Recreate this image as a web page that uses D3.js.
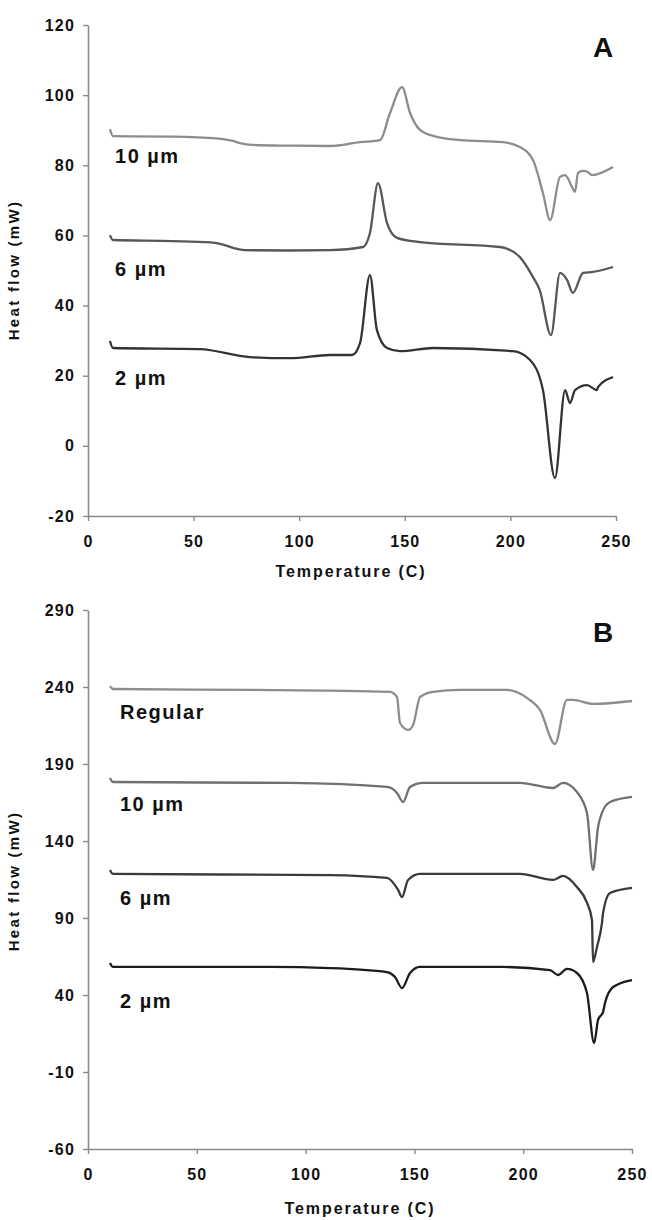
<!DOCTYPE html>
<html>
<head>
<meta charset="utf-8">
<script src="https://cdn.jsdelivr.net/npm/d3@7"></script>
<style>
  body { margin: 0; background: #fff; }
  text { font-family: "Liberation Sans", Arial, sans-serif; font-weight: bold; fill: #111; }
</style>
</head>
<body>
<svg width="652" height="1220"></svg>
<script>
// ---- data ----
const xTicks = [0, 50, 100, 150, 200, 250];
const yTicksA = [-20, 0, 20, 40, 60, 80, 100, 120];
const yTicksB = [-60, -10, 40, 90, 140, 190, 240, 290];

const namesA = ["10 µm", "6 µm", "2 µm"];
const namesB = ["Regular", "10 µm", "6 µm", "2 µm"];

// panel A, [temperature, heat flow]
const a10 = [[10.4,90.3],[11.8,88.3],[40,88.2],[62,87.6],[68,87.0],[73,86.2],[78.1,85.8],[95,85.6],[114.6,85.5],[128.8,86.6],[138.3,87.2],[143,94.9],[148.7,102.3],[152.5,94.9],[157.2,90.1],[165.2,88.1],[176.1,87.2],[196.5,86.6],[204.5,85.2],[210.7,81.5],[215.4,72.1],[218.8,64.4],[223.5,76.7],[225.9,77.2],[229.2,73.8],[230.6,72.4],[232,77.8],[234.4,78.4],[236.7,78.1],[238.6,77.2],[248.6,79.5]];
const a6 = [[10.4,60.1],[11.8,58.7],[40,58.4],[58,58.0],[64,57.4],[69,56.4],[74,55.8],[95,55.7],[114.6,55.8],[130.2,56.7],[133.5,60.7],[137.3,74.9],[141.6,63.5],[146.3,59.3],[157.2,58.1],[195.1,56.7],[204.5,53.8],[210.7,48.1],[213.9,44.4],[219.2,31.6],[223.5,49.3],[226.8,47.3],[229.6,43.6],[234.4,49.3],[239.1,49.6],[248.6,51.0]];
const a2 = [[10.4,29.9],[11.8,27.9],[53,27.6],[76.7,25.3],[95.6,25.0],[114.6,25.9],[125,25.9],[128.8,29.3],[133.5,48.7],[136.8,33.0],[141.6,27.9],[147.7,27.0],[163.4,27.9],[201.2,27.0],[209.3,24.5],[215.4,15.9],[221.1,-9.2],[225.9,15.9],[228.2,12.2],[230.6,15.9],[236.3,17.3],[241,15.9],[241.5,16.8],[248.6,19.6]];

// panel B
const bReg = [[10.1,240.6],[11.5,238.7],[74.4,238.1],[138.8,236.8],[142,233.5],[143.4,216.6],[147.1,212.1],[149.4,215.3],[152.6,233.5],[158.5,236.8],[171,238.1],[192.6,238.1],[201.7,232.9],[207.7,225.1],[214.6,203.0],[220.1,231.6],[222.9,231.6],[232.1,229.0],[250,230.9]];
const b10 = [[10.1,180.9],[11.5,178.3],[92.8,177.7],[137.4,175.1],[142,171.2],[144.8,165.3],[148,175.1],[154,177.7],[198.5,177.7],[213.7,174.4],[218.3,177.7],[224.7,171.8],[229.3,158.2],[232.1,121.2],[234.4,149.1],[236.2,158.2],[239.9,165.3],[250,168.6]];
const b6 = [[10.1,121.2],[11.5,118.6],[111.2,117.9],[137.4,116],[142.5,108.2],[144.3,103.6],[147.1,114.7],[152.6,118.6],[198.5,118.6],[213.7,114.7],[218.3,117.3],[224.7,110.1],[229.3,100],[231.6,88.7],[232.1,61.4],[233.9,71.2],[236.2,86.8],[236.7,93.2],[239.9,106.2],[250,109.5]];
const b2 = [[10.1,60.8],[11.5,58.2],[83.6,58.2],[111.2,57.5],[137.4,54.9],[141.1,51.7],[144.3,44.5],[148,54.3],[152.6,58.2],[190.7,58.2],[212.3,56.2],[216,53],[220.1,56.9],[224.7,54.3],[229.3,41.3],[232.6,8.8],[234.4,23.8],[236.7,29],[237.6,34.8],[241.3,45.2],[250,49.7]];

// ---- layout ----
const svg = d3.select("svg");

const panels = [
  {
    letter: "A", yDomain: [-20, 120], yTicks: yTicksA,
    left: 88, right: 616, top: 25, bottom: 516,
    series: [a10, a6, a2], names: namesA,
    colors: ["#8d8d8d", "#575757", "#333"],
    labelX: 12.8, labelY: [80.6, 48.4, 17.3],
    titleX: 351, titleY: 577, yTitleY: 270
  },
  {
    letter: "B", yDomain: [-60, 290], yTicks: yTicksB,
    left: 88, right: 632, top: 610, bottom: 1149,
    series: [bReg, b10, b6, b2], names: namesB,
    colors: ["#8d8d8d", "#707070", "#3a3a3a", "#1c1c1c"],
    labelX: 14.7, labelY: [219.2, 159.5, 98.4, 31.6],
    titleX: 360, titleY: 1214, yTitleY: 881
  }
];

panels.forEach((p) => {
  const x = d3.scaleLinear().domain([0, 250]).range([p.left, p.right]);
  const y = d3.scaleLinear().domain(p.yDomain).range([p.bottom, p.top]);

  const gx = svg.append("g")
    .attr("transform", `translate(0,${p.bottom})`)
    .call(d3.axisBottom(x).tickValues(xTicks).tickFormat((d) => String(d))
      .tickSize(5).tickSizeOuter(0).tickPadding(15));
  const gy = svg.append("g")
    .attr("transform", `translate(${p.left},0)`)
    .call(d3.axisLeft(y).tickValues(p.yTicks).tickFormat((d) => String(d))
      .tickSize(5).tickSizeOuter(0).tickPadding(8));

  [gx, gy].forEach((g) => {
    g.select(".domain").attr("stroke", "#8a8a8a").attr("stroke-width", 1.6);
    g.selectAll(".tick line").attr("stroke", "#8a8a8a").attr("stroke-width", 1.4);
    g.selectAll(".tick text")
      .attr("font-family", "Liberation Sans, Arial, sans-serif")
      .attr("font-weight", "bold")
      .attr("font-size", 16)
      .attr("letter-spacing", 1.2)
      .attr("fill", "#111");
  });

  const line = d3.line()
    .x((d) => x(d[0]))
    .y((d) => y(d[1]))
    .curve(d3.curveMonotoneX);

  p.series.forEach((s, i) => {
    svg.append("path")
      .datum(s)
      .attr("d", line)
      .attr("fill", "none")
      .attr("stroke", p.colors[i])
      .attr("stroke-width", 2.3)
      .attr("stroke-linejoin", "round");

    svg.append("text")
      .attr("x", x(p.labelX))
      .attr("y", y(p.labelY[i]))
      .attr("font-size", 20)
      .attr("letter-spacing", 1.5)
      .text(p.names[i]);
  });

  svg.append("text")
    .attr("x", 603)
    .attr("y", p.top + 32)
    .attr("text-anchor", "middle")
    .attr("font-size", 28)
    .text(p.letter);

  svg.append("text")
    .attr("x", p.titleX)
    .attr("y", p.titleY)
    .attr("text-anchor", "middle")
    .attr("font-size", 16)
    .attr("letter-spacing", 1.9)
    .text("Temperature (C)");

  svg.append("text")
    .attr("transform", `translate(19,${p.yTitleY}) rotate(-90)`)
    .attr("text-anchor", "middle")
    .attr("font-size", 15)
    .attr("letter-spacing", 2.3)
    .text("Heat flow (mW)");
});
</script>
</body>
</html>
